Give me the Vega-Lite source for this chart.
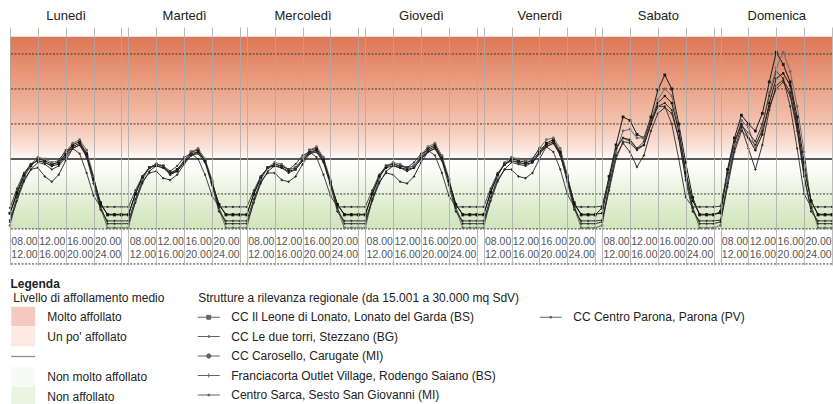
{
"$schema": "https://vega.github.io/schema/vega-lite/v6.json",
"width": 822, "height": 238,
"autosize": {"type": "none"},
"padding": {"left": 10, "top": 27, "right": 1, "bottom": 139},
"background": "#ffffff",
"config": {"font": "Liberation Sans", "view": {"stroke": null}},
"datasets": {"d": [
{"s":"A","t":0,"v":0.45},{"s":"A","t":1,"v":1.0},{"s":"A","t":2,"v":1.5},{"s":"A","t":3,"v":1.8},{"s":"A","t":4,"v":2.0},{"s":"A","t":5,"v":1.95},{"s":"A","t":6,"v":1.85},{"s":"A","t":7,"v":1.9},{"s":"A","t":8,"v":2.15},{"s":"A","t":9,"v":2.4},{"s":"A","t":10,"v":2.5},{"s":"A","t":11,"v":2.15},{"s":"A","t":12,"v":1.45},{"s":"A","t":13,"v":0.75},{"s":"A","t":14,"v":0.4},{"s":"A","t":15,"v":0.4},{"s":"A","t":16,"v":0.4},
{"s":"A","t":17,"v":0.4},{"s":"A","t":18,"v":1.0},{"s":"A","t":19,"v":1.45},{"s":"A","t":20,"v":1.75},{"s":"A","t":21,"v":1.85},{"s":"A","t":22,"v":1.8},{"s":"A","t":23,"v":1.6},{"s":"A","t":24,"v":1.7},{"s":"A","t":25,"v":1.95},{"s":"A","t":26,"v":2.2},{"s":"A","t":27,"v":2.25},{"s":"A","t":28,"v":1.95},{"s":"A","t":29,"v":1.35},{"s":"A","t":30,"v":0.7},{"s":"A","t":31,"v":0.4},{"s":"A","t":32,"v":0.4},{"s":"A","t":33,"v":0.4},
{"s":"A","t":34,"v":0.4},{"s":"A","t":35,"v":1.0},{"s":"A","t":36,"v":1.45},{"s":"A","t":37,"v":1.75},{"s":"A","t":38,"v":1.85},{"s":"A","t":39,"v":1.8},{"s":"A","t":40,"v":1.7},{"s":"A","t":41,"v":1.75},{"s":"A","t":42,"v":2.0},{"s":"A","t":43,"v":2.25},{"s":"A","t":44,"v":2.3},{"s":"A","t":45,"v":2.0},{"s":"A","t":46,"v":1.35},{"s":"A","t":47,"v":0.7},{"s":"A","t":48,"v":0.4},{"s":"A","t":49,"v":0.4},{"s":"A","t":50,"v":0.4},
{"s":"A","t":51,"v":0.4},{"s":"A","t":52,"v":1.0},{"s":"A","t":53,"v":1.5},{"s":"A","t":54,"v":1.8},{"s":"A","t":55,"v":1.85},{"s":"A","t":56,"v":1.8},{"s":"A","t":57,"v":1.75},{"s":"A","t":58,"v":1.8},{"s":"A","t":59,"v":2.05},{"s":"A","t":60,"v":2.3},{"s":"A","t":61,"v":2.4},{"s":"A","t":62,"v":2.05},{"s":"A","t":63,"v":1.4},{"s":"A","t":64,"v":0.7},{"s":"A","t":65,"v":0.4},{"s":"A","t":66,"v":0.4},{"s":"A","t":67,"v":0.4},
{"s":"A","t":68,"v":0.4},{"s":"A","t":69,"v":1.05},{"s":"A","t":70,"v":1.55},{"s":"A","t":71,"v":1.85},{"s":"A","t":72,"v":2.0},{"s":"A","t":73,"v":1.95},{"s":"A","t":74,"v":1.9},{"s":"A","t":75,"v":1.95},{"s":"A","t":76,"v":2.2},{"s":"A","t":77,"v":2.45},{"s":"A","t":78,"v":2.55},{"s":"A","t":79,"v":2.2},{"s":"A","t":80,"v":1.5},{"s":"A","t":81,"v":0.75},{"s":"A","t":82,"v":0.4},{"s":"A","t":83,"v":0.4},{"s":"A","t":84,"v":0.4},
{"s":"A","t":85,"v":0.6},{"s":"A","t":86,"v":1.5},{"s":"A","t":87,"v":2.4},{"s":"A","t":88,"v":3.2},{"s":"A","t":89,"v":3.1},{"s":"A","t":90,"v":2.7},{"s":"A","t":91,"v":2.6},{"s":"A","t":92,"v":3.2},{"s":"A","t":93,"v":3.97},{"s":"A","t":94,"v":4.4},{"s":"A","t":95,"v":4.0},{"s":"A","t":96,"v":3.0},{"s":"A","t":97,"v":1.9},{"s":"A","t":98,"v":0.9},{"s":"A","t":99,"v":0.4},{"s":"A","t":100,"v":0.4},{"s":"A","t":101,"v":0.4},
{"s":"A","t":102,"v":0.5},{"s":"A","t":103,"v":1.7},{"s":"A","t":104,"v":2.6},{"s":"A","t":105,"v":3.25},{"s":"A","t":106,"v":3.0},{"s":"A","t":107,"v":2.8},{"s":"A","t":108,"v":3.3},{"s":"A","t":109,"v":4.2},{"s":"A","t":110,"v":5.05},{"s":"A","t":111,"v":4.7},{"s":"A","t":112,"v":4.2},{"s":"A","t":113,"v":3.2},{"s":"A","t":114,"v":1.9},{"s":"A","t":115,"v":0.8},{"s":"A","t":116,"v":0.4},{"s":"A","t":117,"v":0.4},{"s":"A","t":118,"v":0.4},
{"s":"B","t":0,"v":0.1},{"s":"B","t":1,"v":0.85},{"s":"B","t":2,"v":1.45},{"s":"B","t":3,"v":1.85},{"s":"B","t":4,"v":2.05},{"s":"B","t":5,"v":2.0},{"s":"B","t":6,"v":1.9},{"s":"B","t":7,"v":1.95},{"s":"B","t":8,"v":2.2},{"s":"B","t":9,"v":2.45},{"s":"B","t":10,"v":2.55},{"s":"B","t":11,"v":2.25},{"s":"B","t":12,"v":1.5},{"s":"B","t":13,"v":0.6},{"s":"B","t":14,"v":0.03},{"s":"B","t":15,"v":0.03},{"s":"B","t":16,"v":0.03},
{"s":"B","t":17,"v":0.03},{"s":"B","t":18,"v":0.8},{"s":"B","t":19,"v":1.4},{"s":"B","t":20,"v":1.75},{"s":"B","t":21,"v":1.85},{"s":"B","t":22,"v":1.8},{"s":"B","t":23,"v":1.55},{"s":"B","t":24,"v":1.65},{"s":"B","t":25,"v":1.95},{"s":"B","t":26,"v":2.2},{"s":"B","t":27,"v":2.3},{"s":"B","t":28,"v":2.0},{"s":"B","t":29,"v":1.4},{"s":"B","t":30,"v":0.55},{"s":"B","t":31,"v":0.03},{"s":"B","t":32,"v":0.03},{"s":"B","t":33,"v":0.03},
{"s":"B","t":34,"v":0.03},{"s":"B","t":35,"v":0.8},{"s":"B","t":36,"v":1.4},{"s":"B","t":37,"v":1.75},{"s":"B","t":38,"v":1.9},{"s":"B","t":39,"v":1.85},{"s":"B","t":40,"v":1.7},{"s":"B","t":41,"v":1.75},{"s":"B","t":42,"v":2.0},{"s":"B","t":43,"v":2.25},{"s":"B","t":44,"v":2.35},{"s":"B","t":45,"v":2.05},{"s":"B","t":46,"v":1.4},{"s":"B","t":47,"v":0.55},{"s":"B","t":48,"v":0.03},{"s":"B","t":49,"v":0.03},{"s":"B","t":50,"v":0.03},
{"s":"B","t":51,"v":0.03},{"s":"B","t":52,"v":0.85},{"s":"B","t":53,"v":1.45},{"s":"B","t":54,"v":1.8},{"s":"B","t":55,"v":1.9},{"s":"B","t":56,"v":1.85},{"s":"B","t":57,"v":1.75},{"s":"B","t":58,"v":1.8},{"s":"B","t":59,"v":2.1},{"s":"B","t":60,"v":2.35},{"s":"B","t":61,"v":2.45},{"s":"B","t":62,"v":2.1},{"s":"B","t":63,"v":1.45},{"s":"B","t":64,"v":0.55},{"s":"B","t":65,"v":0.03},{"s":"B","t":66,"v":0.03},{"s":"B","t":67,"v":0.03},
{"s":"B","t":68,"v":0.03},{"s":"B","t":69,"v":0.85},{"s":"B","t":70,"v":1.5},{"s":"B","t":71,"v":1.9},{"s":"B","t":72,"v":2.05},{"s":"B","t":73,"v":2.0},{"s":"B","t":74,"v":1.95},{"s":"B","t":75,"v":2.0},{"s":"B","t":76,"v":2.3},{"s":"B","t":77,"v":2.55},{"s":"B","t":78,"v":2.6},{"s":"B","t":79,"v":2.3},{"s":"B","t":80,"v":1.55},{"s":"B","t":81,"v":0.6},{"s":"B","t":82,"v":0.03},{"s":"B","t":83,"v":0.03},{"s":"B","t":84,"v":0.03},
{"s":"B","t":85,"v":0.1},{"s":"B","t":86,"v":1.2},{"s":"B","t":87,"v":2.2},{"s":"B","t":88,"v":2.8},{"s":"B","t":89,"v":2.85},{"s":"B","t":90,"v":2.6},{"s":"B","t":91,"v":2.6},{"s":"B","t":92,"v":3.1},{"s":"B","t":93,"v":3.7},{"s":"B","t":94,"v":4.0},{"s":"B","t":95,"v":3.8},{"s":"B","t":96,"v":2.9},{"s":"B","t":97,"v":1.7},{"s":"B","t":98,"v":0.6},{"s":"B","t":99,"v":0.03},{"s":"B","t":100,"v":0.03},{"s":"B","t":101,"v":0.03},
{"s":"B","t":102,"v":0.1},{"s":"B","t":103,"v":1.4},{"s":"B","t":104,"v":2.4},{"s":"B","t":105,"v":3.1},{"s":"B","t":106,"v":2.9},{"s":"B","t":107,"v":2.3},{"s":"B","t":108,"v":2.9},{"s":"B","t":109,"v":3.9},{"s":"B","t":110,"v":4.6},{"s":"B","t":111,"v":5.05},{"s":"B","t":112,"v":4.5},{"s":"B","t":113,"v":3.5},{"s":"B","t":114,"v":2.2},{"s":"B","t":115,"v":0.7},{"s":"B","t":116,"v":0.03},{"s":"B","t":117,"v":0.03},{"s":"B","t":118,"v":0.03},
{"s":"C","t":0,"v":0.45},{"s":"C","t":1,"v":1.05},{"s":"C","t":2,"v":1.55},{"s":"C","t":3,"v":1.85},{"s":"C","t":4,"v":1.95},{"s":"C","t":5,"v":1.9},{"s":"C","t":6,"v":1.8},{"s":"C","t":7,"v":1.85},{"s":"C","t":8,"v":2.1},{"s":"C","t":9,"v":2.35},{"s":"C","t":10,"v":2.45},{"s":"C","t":11,"v":2.1},{"s":"C","t":12,"v":1.4},{"s":"C","t":13,"v":0.7},{"s":"C","t":14,"v":0.42},{"s":"C","t":15,"v":0.42},{"s":"C","t":16,"v":0.42},
{"s":"C","t":17,"v":0.42},{"s":"C","t":18,"v":1.0},{"s":"C","t":19,"v":1.5},{"s":"C","t":20,"v":1.75},{"s":"C","t":21,"v":1.8},{"s":"C","t":22,"v":1.75},{"s":"C","t":23,"v":1.6},{"s":"C","t":24,"v":1.65},{"s":"C","t":25,"v":1.9},{"s":"C","t":26,"v":2.15},{"s":"C","t":27,"v":2.2},{"s":"C","t":28,"v":1.95},{"s":"C","t":29,"v":1.3},{"s":"C","t":30,"v":0.7},{"s":"C","t":31,"v":0.42},{"s":"C","t":32,"v":0.42},{"s":"C","t":33,"v":0.42},
{"s":"C","t":34,"v":0.42},{"s":"C","t":35,"v":1.0},{"s":"C","t":36,"v":1.5},{"s":"C","t":37,"v":1.75},{"s":"C","t":38,"v":1.8},{"s":"C","t":39,"v":1.75},{"s":"C","t":40,"v":1.65},{"s":"C","t":41,"v":1.7},{"s":"C","t":42,"v":1.95},{"s":"C","t":43,"v":2.2},{"s":"C","t":44,"v":2.25},{"s":"C","t":45,"v":1.95},{"s":"C","t":46,"v":1.3},{"s":"C","t":47,"v":0.7},{"s":"C","t":48,"v":0.42},{"s":"C","t":49,"v":0.42},{"s":"C","t":50,"v":0.42},
{"s":"C","t":51,"v":0.42},{"s":"C","t":52,"v":1.0},{"s":"C","t":53,"v":1.5},{"s":"C","t":54,"v":1.75},{"s":"C","t":55,"v":1.8},{"s":"C","t":56,"v":1.75},{"s":"C","t":57,"v":1.7},{"s":"C","t":58,"v":1.75},{"s":"C","t":59,"v":2.0},{"s":"C","t":60,"v":2.25},{"s":"C","t":61,"v":2.35},{"s":"C","t":62,"v":2.0},{"s":"C","t":63,"v":1.35},{"s":"C","t":64,"v":0.7},{"s":"C","t":65,"v":0.42},{"s":"C","t":66,"v":0.42},{"s":"C","t":67,"v":0.42},
{"s":"C","t":68,"v":0.42},{"s":"C","t":69,"v":1.05},{"s":"C","t":70,"v":1.55},{"s":"C","t":71,"v":1.85},{"s":"C","t":72,"v":1.95},{"s":"C","t":73,"v":1.9},{"s":"C","t":74,"v":1.85},{"s":"C","t":75,"v":1.9},{"s":"C","t":76,"v":2.15},{"s":"C","t":77,"v":2.4},{"s":"C","t":78,"v":2.5},{"s":"C","t":79,"v":2.15},{"s":"C","t":80,"v":1.45},{"s":"C","t":81,"v":0.7},{"s":"C","t":82,"v":0.42},{"s":"C","t":83,"v":0.42},{"s":"C","t":84,"v":0.42},
{"s":"C","t":85,"v":0.45},{"s":"C","t":86,"v":1.4},{"s":"C","t":87,"v":2.3},{"s":"C","t":88,"v":2.6},{"s":"C","t":89,"v":2.55},{"s":"C","t":90,"v":2.3},{"s":"C","t":91,"v":2.4},{"s":"C","t":92,"v":3.0},{"s":"C","t":93,"v":3.6},{"s":"C","t":94,"v":3.8},{"s":"C","t":95,"v":3.6},{"s":"C","t":96,"v":2.8},{"s":"C","t":97,"v":1.6},{"s":"C","t":98,"v":0.8},{"s":"C","t":99,"v":0.42},{"s":"C","t":100,"v":0.42},{"s":"C","t":101,"v":0.42},
{"s":"C","t":102,"v":0.45},{"s":"C","t":103,"v":1.6},{"s":"C","t":104,"v":2.5},{"s":"C","t":105,"v":3.0},{"s":"C","t":106,"v":2.6},{"s":"C","t":107,"v":2.25},{"s":"C","t":108,"v":2.7},{"s":"C","t":109,"v":3.6},{"s":"C","t":110,"v":4.3},{"s":"C","t":111,"v":4.45},{"s":"C","t":112,"v":4.1},{"s":"C","t":113,"v":3.0},{"s":"C","t":114,"v":1.7},{"s":"C","t":115,"v":0.8},{"s":"C","t":116,"v":0.42},{"s":"C","t":117,"v":0.42},{"s":"C","t":118,"v":0.42},
{"s":"D","t":0,"v":0.25},{"s":"D","t":1,"v":0.9},{"s":"D","t":2,"v":1.4},{"s":"D","t":3,"v":1.7},{"s":"D","t":4,"v":1.75},{"s":"D","t":5,"v":1.5},{"s":"D","t":6,"v":1.35},{"s":"D","t":7,"v":1.55},{"s":"D","t":8,"v":1.95},{"s":"D","t":9,"v":2.3},{"s":"D","t":10,"v":2.4},{"s":"D","t":11,"v":2.05},{"s":"D","t":12,"v":1.3},{"s":"D","t":13,"v":0.55},{"s":"D","t":14,"v":0.23},{"s":"D","t":15,"v":0.23},{"s":"D","t":16,"v":0.23},
{"s":"D","t":17,"v":0.23},{"s":"D","t":18,"v":0.85},{"s":"D","t":19,"v":1.35},{"s":"D","t":20,"v":1.6},{"s":"D","t":21,"v":1.65},{"s":"D","t":22,"v":1.45},{"s":"D","t":23,"v":1.4},{"s":"D","t":24,"v":1.55},{"s":"D","t":25,"v":1.85},{"s":"D","t":26,"v":2.1},{"s":"D","t":27,"v":2.15},{"s":"D","t":28,"v":1.9},{"s":"D","t":29,"v":1.25},{"s":"D","t":30,"v":0.5},{"s":"D","t":31,"v":0.23},{"s":"D","t":32,"v":0.23},{"s":"D","t":33,"v":0.23},
{"s":"D","t":34,"v":0.23},{"s":"D","t":35,"v":0.85},{"s":"D","t":36,"v":1.35},{"s":"D","t":37,"v":1.6},{"s":"D","t":38,"v":1.6},{"s":"D","t":39,"v":1.4},{"s":"D","t":40,"v":1.35},{"s":"D","t":41,"v":1.5},{"s":"D","t":42,"v":1.85},{"s":"D","t":43,"v":2.15},{"s":"D","t":44,"v":2.2},{"s":"D","t":45,"v":1.9},{"s":"D","t":46,"v":1.25},{"s":"D","t":47,"v":0.5},{"s":"D","t":48,"v":0.23},{"s":"D","t":49,"v":0.23},{"s":"D","t":50,"v":0.23},
{"s":"D","t":51,"v":0.23},{"s":"D","t":52,"v":0.85},{"s":"D","t":53,"v":1.35},{"s":"D","t":54,"v":1.6},{"s":"D","t":55,"v":1.55},{"s":"D","t":56,"v":1.35},{"s":"D","t":57,"v":1.3},{"s":"D","t":58,"v":1.5},{"s":"D","t":59,"v":1.9},{"s":"D","t":60,"v":2.2},{"s":"D","t":61,"v":2.3},{"s":"D","t":62,"v":1.95},{"s":"D","t":63,"v":1.25},{"s":"D","t":64,"v":0.5},{"s":"D","t":65,"v":0.23},{"s":"D","t":66,"v":0.23},{"s":"D","t":67,"v":0.23},
{"s":"D","t":68,"v":0.23},{"s":"D","t":69,"v":0.9},{"s":"D","t":70,"v":1.4},{"s":"D","t":71,"v":1.7},{"s":"D","t":72,"v":1.7},{"s":"D","t":73,"v":1.5},{"s":"D","t":74,"v":1.45},{"s":"D","t":75,"v":1.6},{"s":"D","t":76,"v":2.0},{"s":"D","t":77,"v":2.35},{"s":"D","t":78,"v":2.45},{"s":"D","t":79,"v":2.1},{"s":"D","t":80,"v":1.35},{"s":"D","t":81,"v":0.55},{"s":"D","t":82,"v":0.23},{"s":"D","t":83,"v":0.23},{"s":"D","t":84,"v":0.23},
{"s":"D","t":85,"v":0.25},{"s":"D","t":86,"v":1.2},{"s":"D","t":87,"v":2.1},{"s":"D","t":88,"v":2.45},{"s":"D","t":89,"v":2.2},{"s":"D","t":90,"v":1.77},{"s":"D","t":91,"v":2.1},{"s":"D","t":92,"v":2.8},{"s":"D","t":93,"v":3.3},{"s":"D","t":94,"v":3.47},{"s":"D","t":95,"v":3.3},{"s":"D","t":96,"v":2.6},{"s":"D","t":97,"v":1.4},{"s":"D","t":98,"v":0.5},{"s":"D","t":99,"v":0.23},{"s":"D","t":100,"v":0.23},{"s":"D","t":101,"v":0.23},
{"s":"D","t":102,"v":0.25},{"s":"D","t":103,"v":1.3},{"s":"D","t":104,"v":2.3},{"s":"D","t":105,"v":2.9},{"s":"D","t":106,"v":2.3},{"s":"D","t":107,"v":1.7},{"s":"D","t":108,"v":2.4},{"s":"D","t":109,"v":3.4},{"s":"D","t":110,"v":4.1},{"s":"D","t":111,"v":4.26},{"s":"D","t":112,"v":3.9},{"s":"D","t":113,"v":2.9},{"s":"D","t":114,"v":1.5},{"s":"D","t":115,"v":0.5},{"s":"D","t":116,"v":0.23},{"s":"D","t":117,"v":0.23},{"s":"D","t":118,"v":0.23},
{"s":"E","t":0,"v":0.6},{"s":"E","t":1,"v":1.15},{"s":"E","t":2,"v":1.6},{"s":"E","t":3,"v":1.85},{"s":"E","t":4,"v":1.95},{"s":"E","t":5,"v":1.9},{"s":"E","t":6,"v":1.8},{"s":"E","t":7,"v":1.95},{"s":"E","t":8,"v":2.25},{"s":"E","t":9,"v":2.3},{"s":"E","t":10,"v":2.15},{"s":"E","t":11,"v":1.6},{"s":"E","t":12,"v":0.95},{"s":"E","t":13,"v":0.63},{"s":"E","t":14,"v":0.63},{"s":"E","t":15,"v":0.63},{"s":"E","t":16,"v":0.63},
{"s":"E","t":17,"v":0.63},{"s":"E","t":18,"v":1.1},{"s":"E","t":19,"v":1.5},{"s":"E","t":20,"v":1.75},{"s":"E","t":21,"v":1.85},{"s":"E","t":22,"v":1.8},{"s":"E","t":23,"v":1.65},{"s":"E","t":24,"v":1.8},{"s":"E","t":25,"v":2.05},{"s":"E","t":26,"v":2.15},{"s":"E","t":27,"v":2.0},{"s":"E","t":28,"v":1.55},{"s":"E","t":29,"v":0.95},{"s":"E","t":30,"v":0.63},{"s":"E","t":31,"v":0.63},{"s":"E","t":32,"v":0.63},{"s":"E","t":33,"v":0.63},
{"s":"E","t":34,"v":0.63},{"s":"E","t":35,"v":1.1},{"s":"E","t":36,"v":1.5},{"s":"E","t":37,"v":1.75},{"s":"E","t":38,"v":1.85},{"s":"E","t":39,"v":1.8},{"s":"E","t":40,"v":1.7},{"s":"E","t":41,"v":1.85},{"s":"E","t":42,"v":2.1},{"s":"E","t":43,"v":2.2},{"s":"E","t":44,"v":2.05},{"s":"E","t":45,"v":1.55},{"s":"E","t":46,"v":0.95},{"s":"E","t":47,"v":0.63},{"s":"E","t":48,"v":0.63},{"s":"E","t":49,"v":0.63},{"s":"E","t":50,"v":0.63},
{"s":"E","t":51,"v":0.63},{"s":"E","t":52,"v":1.1},{"s":"E","t":53,"v":1.55},{"s":"E","t":54,"v":1.8},{"s":"E","t":55,"v":1.85},{"s":"E","t":56,"v":1.8},{"s":"E","t":57,"v":1.75},{"s":"E","t":58,"v":1.9},{"s":"E","t":59,"v":2.15},{"s":"E","t":60,"v":2.25},{"s":"E","t":61,"v":2.1},{"s":"E","t":62,"v":1.6},{"s":"E","t":63,"v":0.95},{"s":"E","t":64,"v":0.63},{"s":"E","t":65,"v":0.63},{"s":"E","t":66,"v":0.63},{"s":"E","t":67,"v":0.63},
{"s":"E","t":68,"v":0.63},{"s":"E","t":69,"v":1.15},{"s":"E","t":70,"v":1.6},{"s":"E","t":71,"v":1.85},{"s":"E","t":72,"v":1.95},{"s":"E","t":73,"v":1.9},{"s":"E","t":74,"v":1.85},{"s":"E","t":75,"v":2.0},{"s":"E","t":76,"v":2.3},{"s":"E","t":77,"v":2.35},{"s":"E","t":78,"v":2.2},{"s":"E","t":79,"v":1.7},{"s":"E","t":80,"v":1.0},{"s":"E","t":81,"v":0.63},{"s":"E","t":82,"v":0.63},{"s":"E","t":83,"v":0.63},{"s":"E","t":84,"v":0.63},
{"s":"E","t":85,"v":0.65},{"s":"E","t":86,"v":1.4},{"s":"E","t":87,"v":2.3},{"s":"E","t":88,"v":2.6},{"s":"E","t":89,"v":2.5},{"s":"E","t":90,"v":2.3},{"s":"E","t":91,"v":2.5},{"s":"E","t":92,"v":3.1},{"s":"E","t":93,"v":3.5},{"s":"E","t":94,"v":3.5},{"s":"E","t":95,"v":3.0},{"s":"E","t":96,"v":2.0},{"s":"E","t":97,"v":0.9},{"s":"E","t":98,"v":0.63},{"s":"E","t":99,"v":0.63},{"s":"E","t":100,"v":0.63},{"s":"E","t":101,"v":0.63},
{"s":"E","t":102,"v":0.65},{"s":"E","t":103,"v":1.6},{"s":"E","t":104,"v":2.5},{"s":"E","t":105,"v":2.95},{"s":"E","t":106,"v":2.75},{"s":"E","t":107,"v":2.5},{"s":"E","t":108,"v":3.0},{"s":"E","t":109,"v":3.8},{"s":"E","t":110,"v":4.5},{"s":"E","t":111,"v":4.3},{"s":"E","t":112,"v":3.5},{"s":"E","t":113,"v":2.3},{"s":"E","t":114,"v":1.0},{"s":"E","t":115,"v":0.63},{"s":"E","t":116,"v":0.63},{"s":"E","t":117,"v":0.63},{"s":"E","t":118,"v":0.63},
{"s":"F","t":0,"v":0.2},{"s":"F","t":1,"v":0.8},{"s":"F","t":2,"v":1.35},{"s":"F","t":3,"v":1.7},{"s":"F","t":4,"v":1.9},{"s":"F","t":5,"v":1.85},{"s":"F","t":6,"v":1.7},{"s":"F","t":7,"v":1.8},{"s":"F","t":8,"v":2.05},{"s":"F","t":9,"v":2.3},{"s":"F","t":10,"v":2.4},{"s":"F","t":11,"v":2.1},{"s":"F","t":12,"v":1.45},{"s":"F","t":13,"v":0.65},{"s":"F","t":14,"v":0.15},{"s":"F","t":15,"v":0.15},{"s":"F","t":16,"v":0.15},
{"s":"F","t":17,"v":0.15},{"s":"F","t":18,"v":0.75},{"s":"F","t":19,"v":1.3},{"s":"F","t":20,"v":1.65},{"s":"F","t":21,"v":1.8},{"s":"F","t":22,"v":1.75},{"s":"F","t":23,"v":1.55},{"s":"F","t":24,"v":1.65},{"s":"F","t":25,"v":1.9},{"s":"F","t":26,"v":2.1},{"s":"F","t":27,"v":2.2},{"s":"F","t":28,"v":1.95},{"s":"F","t":29,"v":1.35},{"s":"F","t":30,"v":0.6},{"s":"F","t":31,"v":0.15},{"s":"F","t":32,"v":0.15},{"s":"F","t":33,"v":0.15},
{"s":"F","t":34,"v":0.15},{"s":"F","t":35,"v":0.75},{"s":"F","t":36,"v":1.3},{"s":"F","t":37,"v":1.65},{"s":"F","t":38,"v":1.8},{"s":"F","t":39,"v":1.75},{"s":"F","t":40,"v":1.6},{"s":"F","t":41,"v":1.7},{"s":"F","t":42,"v":1.95},{"s":"F","t":43,"v":2.15},{"s":"F","t":44,"v":2.25},{"s":"F","t":45,"v":1.95},{"s":"F","t":46,"v":1.35},{"s":"F","t":47,"v":0.6},{"s":"F","t":48,"v":0.15},{"s":"F","t":49,"v":0.15},{"s":"F","t":50,"v":0.15},
{"s":"F","t":51,"v":0.15},{"s":"F","t":52,"v":0.8},{"s":"F","t":53,"v":1.3},{"s":"F","t":54,"v":1.65},{"s":"F","t":55,"v":1.8},{"s":"F","t":56,"v":1.75},{"s":"F","t":57,"v":1.65},{"s":"F","t":58,"v":1.75},{"s":"F","t":59,"v":2.0},{"s":"F","t":60,"v":2.2},{"s":"F","t":61,"v":2.3},{"s":"F","t":62,"v":2.0},{"s":"F","t":63,"v":1.4},{"s":"F","t":64,"v":0.6},{"s":"F","t":65,"v":0.15},{"s":"F","t":66,"v":0.15},{"s":"F","t":67,"v":0.15},
{"s":"F","t":68,"v":0.15},{"s":"F","t":69,"v":0.8},{"s":"F","t":70,"v":1.35},{"s":"F","t":71,"v":1.7},{"s":"F","t":72,"v":1.9},{"s":"F","t":73,"v":1.85},{"s":"F","t":74,"v":1.8},{"s":"F","t":75,"v":1.9},{"s":"F","t":76,"v":2.15},{"s":"F","t":77,"v":2.35},{"s":"F","t":78,"v":2.45},{"s":"F","t":79,"v":2.15},{"s":"F","t":80,"v":1.45},{"s":"F","t":81,"v":0.65},{"s":"F","t":82,"v":0.15},{"s":"F","t":83,"v":0.15},{"s":"F","t":84,"v":0.15},
{"s":"F","t":85,"v":0.2},{"s":"F","t":86,"v":1.1},{"s":"F","t":87,"v":2.0},{"s":"F","t":88,"v":2.5},{"s":"F","t":89,"v":2.45},{"s":"F","t":90,"v":2.25},{"s":"F","t":91,"v":2.4},{"s":"F","t":92,"v":3.0},{"s":"F","t":93,"v":3.5},{"s":"F","t":94,"v":3.6},{"s":"F","t":95,"v":3.4},{"s":"F","t":96,"v":2.6},{"s":"F","t":97,"v":1.5},{"s":"F","t":98,"v":0.6},{"s":"F","t":99,"v":0.15},{"s":"F","t":100,"v":0.15},{"s":"F","t":101,"v":0.15},
{"s":"F","t":102,"v":0.2},{"s":"F","t":103,"v":1.2},{"s":"F","t":104,"v":2.2},{"s":"F","t":105,"v":2.8},{"s":"F","t":106,"v":2.6},{"s":"F","t":107,"v":2.4},{"s":"F","t":108,"v":2.8},{"s":"F","t":109,"v":3.5},{"s":"F","t":110,"v":4.0},{"s":"F","t":111,"v":4.2},{"s":"F","t":112,"v":3.8},{"s":"F","t":113,"v":2.8},{"s":"F","t":114,"v":1.5},{"s":"F","t":115,"v":0.6},{"s":"F","t":116,"v":0.15},{"s":"F","t":117,"v":0.15},{"s":"F","t":118,"v":0.15}
]},
"data": {"name": "d"},
"resolve": {
  "axis": {"x": "independent"},
  "scale": {"shape": "independent", "stroke": "independent", "fill": "independent", "color": "independent", "size": "independent", "strokeWidth": "independent"},
  "legend": {"shape": "independent", "stroke": "independent", "fill": "independent", "color": "independent", "size": "independent", "strokeWidth": "independent"}
},
"layer": [
  {
    "data": {"values": [{}]},
    "mark": {"type": "rect", "fill": {"gradient": "linear", "x1": 0, "y1": 0, "x2": 0, "y2": 1, "stops": [
      {"offset": 0, "color": "#de7856"},
      {"offset": 0.1, "color": "#e28667"},
      {"offset": 0.27, "color": "#eba489"},
      {"offset": 0.46, "color": "#f4c5b1"},
      {"offset": 0.58, "color": "#fbe4da"},
      {"offset": 0.645, "color": "#ffffff"},
      {"offset": 0.7, "color": "#fafcf6"},
      {"offset": 0.82, "color": "#e6f1da"},
      {"offset": 1, "color": "#cfe4bb"}
    ]}},
    "encoding": {
      "x": {"datum": 0, "type": "quantitative",
        "axis": {"orient": "top", "values": [8, 25, 42, 59, 76, 93, 110],
          "labelExpr": "['Lunedì','Martedì','Mercoledì','Giovedì','Venerdì','Sabato','Domenica'][floor(datum.value/17)]",
          "ticks": false, "domain": false, "grid": false, "labelFontSize": 13, "labelColor": "#222222",
          "labelPadding": 5, "labelFlush": false, "labelOverlap": false, "title": null}},
      "x2": {"datum": 118},
      "y": {"datum": 5.49, "type": "quantitative", "axis": null},
      "y2": {"datum": 0}
    }
  },
  {
    "data": {"values": [{"v": 5}, {"v": 4}, {"v": 3}, {"v": 1}, {"v": 0}, {"v": -1}]},
    "mark": {"type": "rule", "strokeDash": [2, 1.5], "color": "#3a3a3a", "strokeWidth": 1},
    "encoding": {"y": {"field": "v", "type": "quantitative", "axis": null}}
  },
  {
    "data": {"values": [{"v": 2}]},
    "mark": {"type": "rule", "color": "#222222", "strokeWidth": 1.4},
    "encoding": {"y": {"field": "v", "type": "quantitative", "axis": null}}
  },
  {
    "mark": {"type": "line"},
    "encoding": {
      "x": {"field": "t", "type": "quantitative",
        "scale": {"domain": [0, 118], "nice": false, "zero": false},
        "axis": {"orient": "bottom", "offset": -36,
          "values": [2,6,10,14,19,23,27,31,36,40,44,48,53,57,61,65,70,74,78,82,87,91,95,99,104,108,112,116],
          "labelExpr": "[['08.00','12.00'],['12.00','16.00'],['16.00','20.00'],['20.00','24.00']][floor((datum.value % 17)/4)]",
          "ticks": false, "domain": false, "grid": false, "labelFontSize": 10.5, "labelColor": "#555555",
          "labelBaseline": "top", "labelPadding": 7, "labelLineHeight": 13, "labelFlush": false, "labelOverlap": false,
          "title": "Legenda", "titleX": 0, "titleY": 54, "titleAlign": "left", "titleBaseline": "middle",
          "titleFontWeight": "bold", "titleFontSize": 12, "titleColor": "#222222"}},
      "y": {"field": "v", "type": "quantitative", "scale": {"domain": [-1.03, 5.77], "nice": false, "zero": false}, "axis": null},
      "stroke": {"field": "s", "type": "nominal", "scale": {"domain": ["A","B","C","D","E","F"], "range": ["#1a1a1a","#6a6a6a","#111111","#2a2a2a","#333333","#222222"]}, "legend": null},
      "strokeWidth": {"field": "s", "type": "nominal", "scale": {"domain": ["A","B","C","D","E","F"], "range": [1, 0.9, 1.5, 1, 1, 1]}, "legend": null}
    }
  },
  {
    "mark": {"type": "point", "filled": true, "opacity": 1},
    "encoding": {
      "x": {"field": "t", "type": "quantitative",
        "axis": {"orient": "bottom", "values": [0,4,8,12,16,17,21,25,29,33,34,38,42,46,50,51,55,59,63,67,68,72,76,80,84,85,89,93,97,101,102,106,110,114,118],
          "grid": true, "gridColor": "#a9a9a9", "gridWidth": 0.8, "labels": false, "ticks": false, "domain": false, "title": null, "zindex": 1}},
      "y": {"field": "v", "type": "quantitative", "axis": null},
      "shape": {"field": "s", "type": "nominal", "scale": {"domain": ["A","B","C","D","E","F"], "range": ["square","circle","circle","cross","circle","circle"]}, "legend": null},
      "size": {"field": "s", "type": "nominal", "scale": {"domain": ["A","B","C","D","E","F"], "range": [8, 4, 12, 10, 5, 4]}, "legend": null},
      "color": {"field": "s", "type": "nominal", "scale": {"domain": ["A","B","C","D","E","F"], "range": ["#1a1a1a","#6a6a6a","#111111","#2a2a2a","#333333","#222222"]}, "legend": null}
    }
  },
  {
    "data": {"values": [{"lvl": "Molto affollato"}, {"lvl": "Un po' affollato"}, {"lvl": " "}, {"lvl": "Non molto affollato"}, {"lvl": "Non affollato"}]},
    "mark": {"type": "point", "size": 0, "filled": true, "strokeWidth": 0},
    "encoding": {
      "fill": {"field": "lvl", "type": "nominal",
        "scale": {"domain": ["Molto affollato", "Un po' affollato", " ", "Non molto affollato", "Non affollato"], "range": ["#e8937a", "#f8d2c3", "#222222", "#f1f7eb", "#d4e8c3"]},
        "legend": {"orient": "none", "legendX": 3.25, "legendY": 265.5, "title": "Livello di affollamento medio", "titleFontSize": 12, "titleFontWeight": "normal", "titleColor": "#222222", "titlePadding": 2, "labelFontSize": 12, "labelColor": "#222222", "symbolSize": 380, "rowPadding": 0, "labelOffset": 14, "symbolStrokeWidth": 0, "titleLimit": 400}},
      "shape": {"field": "lvl", "type": "nominal",
        "scale": {"domain": ["Molto affollato", "Un po' affollato", " ", "Non molto affollato", "Non affollato"], "range": ["M-1.23,-1H1.23V1H-1.23Z", "M-1.23,-1H1.23V1H-1.23Z", "M-1.23,-1M1.23,1M-1.23,-0.07H1.23V0.07H-1.23Z", "M-1.23,-1H1.23V1H-1.23Z", "M-1.23,-1H1.23V1H-1.23Z"]},
        "legend": {"orient": "none", "legendX": 3.25, "legendY": 265.5, "title": "Livello di affollamento medio", "titleFontSize": 12, "titleFontWeight": "normal", "titleColor": "#222222", "titlePadding": 2, "labelFontSize": 12, "labelColor": "#222222", "symbolSize": 380, "rowPadding": 0, "labelOffset": 14, "symbolStrokeWidth": 0, "titleLimit": 400}}
    }
  },
  {
    "data": {"values": [{"s": "A"}, {"s": "B"}, {"s": "C"}, {"s": "D"}, {"s": "E"}, {"s": "F"}]},
    "mark": {"type": "point", "size": 0, "filled": true, "fill": "#222222", "stroke": "#222222", "strokeWidth": 1},
    "encoding": {
      "shape": {"field": "s", "type": "nominal",
        "scale": {"domain": ["A", "B", "C", "D", "E", "F", "_1", "_2", "_3", "_4"],
          "range": ["M-1.13,0H1.13M-0.2,-0.2H0.2V0.2H-0.2Z", "M-1.13,0H1.13M-0.07,-0.07H0.07V0.07H-0.07Z", "M-1.13,0H1.13M-0.22,0A0.22,0.22,0,1,0,0.22,0A0.22,0.22,0,1,0,-0.22,0Z", "M-1.13,0H1.13M0,-0.2V0.2", "M-1.13,0H1.13M-0.08,-0.08H0.08V0.08H-0.08Z", "M-1.13,0H1.13M-0.08,-0.08H0.08V0.08H-0.08Z", "M0,0", "M0,0", "M0,0", "M0,0"]},
        "legend": {"orient": "none", "legendX": 188.25, "legendY": 265.5, "columns": 2, "columnPadding": 41, "rowPadding": 2.5,
          "title": "Strutture a rilevanza regionale (da 15.001 a 30.000 mq SdV)", "titleFontSize": 12, "titleFontWeight": "normal", "titleColor": "#222222", "titlePadding": 2, "titleLimit": 500,
          "labelFontSize": 12, "labelColor": "#222222", "labelLimit": 400, "labelOffset": 12, "symbolSize": 380, "symbolStrokeWidth": 1,
          "labelExpr": "datum.value == 'A' ? 'CC Il Leone di Lonato, Lonato del Garda (BS)' : datum.value == 'B' ? 'CC Le due torri, Stezzano (BG)' : datum.value == 'C' ? 'CC Carosello, Carugate (MI)' : datum.value == 'D' ? 'Franciacorta Outlet Village, Rodengo Saiano (BS)' : datum.value == 'E' ? 'Centro Sarca, Sesto San Giovanni (MI)' : datum.value == 'F' ? 'CC Centro Parona, Parona (PV)' : ''"}}
    }
  }
]
}
